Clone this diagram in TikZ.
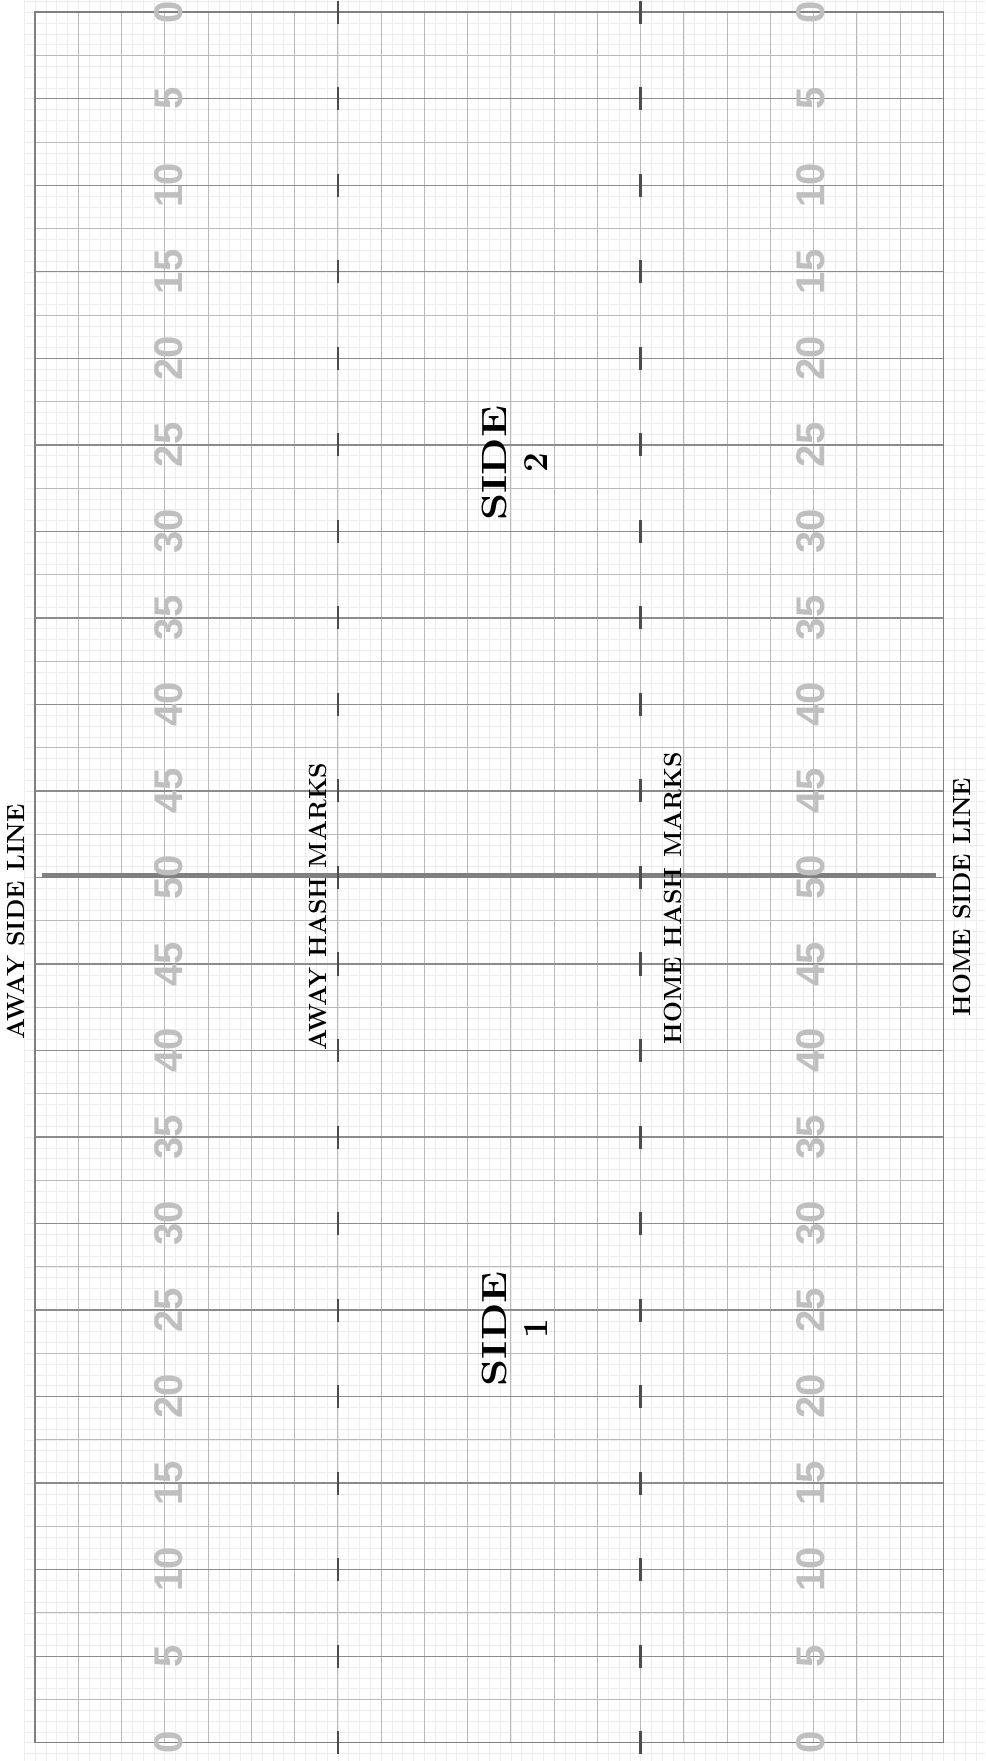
\documentclass[tikz,border=0pt]{standalone}
\usepackage{graphicx}
\usepackage{fontspec}
\newfontfamily\numfont{Liberation Sans}

\begin{document}
\begin{tikzpicture}[
      x=17.304pt,y=17.304pt,
      fine/.style={draw=black!7,line width=0.6pt},
      gridline/.style={draw=black!27,line width=1pt},
      fiveline/.style={draw=black!45,line width=1.3pt},
      border/.style={draw=black!50,line width=1.6pt},
      hashmark/.style={draw=black!70,line width=2.4pt},
      midline/.style={draw=black!50,line width=5pt},
      ydnum/.style={text=black!25,inner sep=0pt,rotate=90,
        font=\numfont\bfseries\fontsize{40}{40}\selectfont},
      lbl/.style={inner sep=0pt,rotate=90,
        font=\bfseries\fontsize{24.8}{30}\selectfont},
      sidelbl/.style={inner sep=0pt,rotate=90,align=center,
        font=\bfseries\fontsize{35}{41.5}\selectfont}
    ]
    \useasboundingbox (-2.023,-1.058) rectangle (54.90,100.71);
    \fill[white] (-2.023,-1.058) rectangle (54.90,100.71);
    \foreach \i in {-1,...,87}
      \draw[fine] (\i*0.625,-1.058) -- (\i*0.625,100.71);
    \foreach \j in {-1,...,161}
      \draw[fine] (-0.625,\j*0.625) -- (54.90,\j*0.625);
    \foreach \i in {1,...,20}
      \draw[gridline] (\i*2.5,0) -- (\i*2.5,100);
    \foreach \j in {1,3,...,39}
      \draw[gridline] (0,\j*2.5) -- (52.5,\j*2.5);
    \foreach \j in {1,...,19}
      \draw[fiveline] (0,\j*5) -- (52.5,\j*5);
    \draw[border] (0,0) rectangle (52.5,100);
    \draw[midline] (0.40,50.12) -- (52.05,50.12);
    \foreach \y in {0,5,...,100}{
      \pgfmathtruncatemacro\yd{50-abs(\y-50)}
      \node[ydnum] (nl\y) at (7.73,\y) {\yd};
      \node[ydnum] (nr\y) at (44.83,\y) {\yd};
      \draw[hashmark] (17.5,\y-0.665) -- (17.5,\y+0.665);
      \draw[hashmark] (35,\y-0.665) -- (35,\y+0.665);
    }
    \node[lbl] (awayside) at (-1.10,47.43) {AWAY SIDE LINE};
    \node[lbl] (awayhash) at (16.35,48.32) {AWAY HASH MARKS};
    \node[lbl] (homehash) at (36.87,48.80) {HOME HASH MARKS};
    \node[lbl] (homeside) at (53.57,48.86) {HOME SIDE LINE};
    \node[sidelbl] (side2) at (27.73,73.95) {\scalebox{1.24}[1]{SIDE}\\2};
    \node[sidelbl] (side1) at (27.73,23.92) {\scalebox{1.24}[1]{SIDE}\\1};
  \end{tikzpicture}
\end{document}
